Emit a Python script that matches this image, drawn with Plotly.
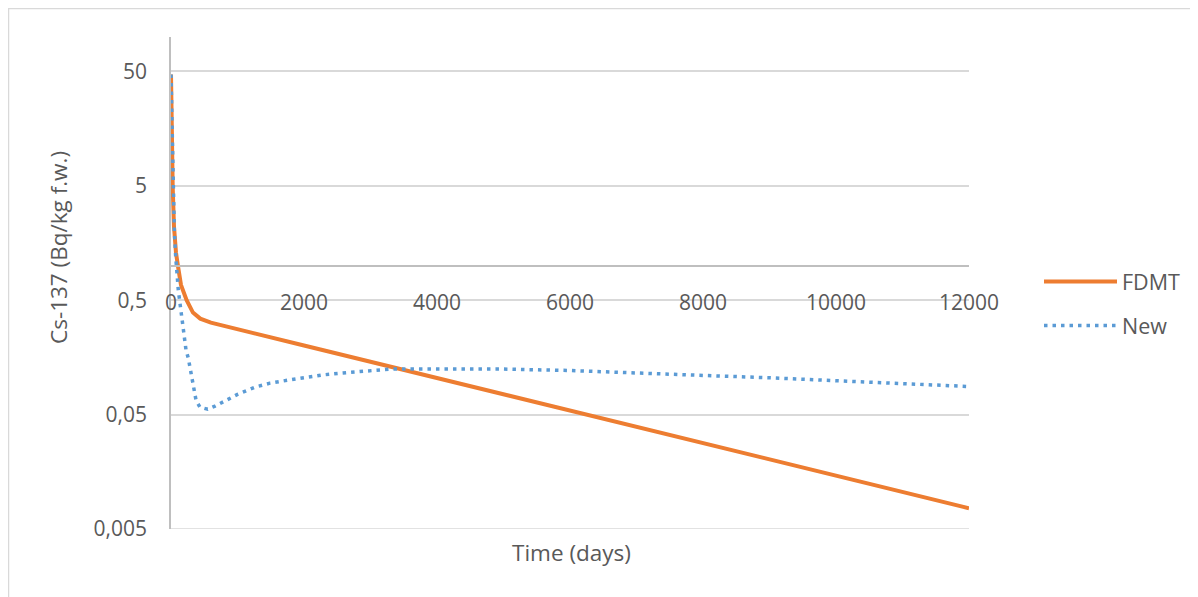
import math
import plotly.graph_objects as go

# ---- data ----
fdmt_days = [0, 10, 26, 45, 75, 110, 150, 235, 330, 440, 600, 2000, 4000, 6000, 8000, 10000, 12000]
fdmt_vals = [47, 12.5, 4.8, 2.2, 1.3, 0.95, 0.68, 0.5, 0.39, 0.345, 0.318, 0.201, 0.1044, 0.0542, 0.0282, 0.01463, 0.0076]

new_days = [0, 35, 50, 71, 86, 110, 135, 161, 185, 226, 260, 286, 311, 326, 376, 436, 552, 662, 782,
            1008, 1263, 1489, 1760, 2015, 2271, 2542, 2918, 3294, 3700, 4200, 5000, 6000, 7000,
            8000, 9000, 10000, 11000, 12000]
new_vals = [47, 4.3, 2.04, 1.19, 0.86, 0.611, 0.471, 0.37, 0.263, 0.183, 0.156, 0.13, 0.111, 0.0942,
            0.067, 0.058, 0.0558, 0.0593, 0.0643, 0.0755, 0.0869, 0.0942, 0.100, 0.106, 0.111, 0.115,
            0.120, 0.125, 0.125, 0.125, 0.125, 0.1215, 0.1146, 0.110, 0.105, 0.099, 0.0935, 0.088]

y_tickvals = [0.005, 0.05, 0.5, 5, 50]
y_ticktext = ["0,005", "0,05", "0,5", "5", "50"]
x_tickvals = [0, 2000, 4000, 6000, 8000, 10000, 12000]
x_ticktext = ["0", "2000", "4000", "6000", "8000", "10000", "12000"]

y_min, y_max = 0.005, 100
x_min, x_max = 0, 12000
x_cross = 1  # horizontal axis crosses at this value

FONT = "Open Sans"
TXT = "#595959"
GRID = "#D9D9D9"

fig = go.Figure()
fig.add_trace(go.Scatter(x=fdmt_days, y=fdmt_vals, mode="lines", name="FDMT",
                         line=dict(color="#ED7D31", width=4), legendgroup="a"))
fig.add_trace(go.Scatter(x=new_days, y=new_vals, mode="lines", name="New",
                         line=dict(color="#5B9BD5", width=3.5, dash="3.5px,5px"), legendgroup="b"))

lo, hi = math.log10(y_min), math.log10(y_max)
cross_pos = (math.log10(x_cross) - lo) / (hi - lo)

OFF = 8  # page body margin
W, H = 1198 - OFF, 597 - OFF
ml, mt = 171 - OFF, 37 - OFF
pw, ph = 798, 492
mr, mb = W - ml - pw, H - mt - ph


def px(xw):
    return (xw - OFF - ml) / pw


def py(yw):
    return (mt + ph - (yw - OFF)) / ph


fig.update_layout(
    width=W, height=H,
    margin=dict(l=ml, r=mr, t=mt, b=mb, pad=0, autoexpand=False),
    paper_bgcolor="white", plot_bgcolor="white",
    font=dict(family=FONT, size=21, color=TXT),
    showlegend=True,
    legend=dict(x=px(1039), xanchor="left", y=py(261), yanchor="top",
                font=dict(size=21.5, color=TXT), traceorder="grouped", tracegroupgap=13,
                itemwidth=73, bgcolor="rgba(0,0,0,0)"),
    xaxis=dict(range=[x_min, x_max], tickvals=x_tickvals, ticktext=x_ticktext,
               showgrid=False, zeroline=False, showline=True, linecolor="#BFBFBF", linewidth=1.5,
               anchor="free", position=cross_pos, ticks="", ticklabelstandoff=18,
               tickfont=dict(size=21, color=TXT)),
    yaxis=dict(type="log", range=[lo, hi], tickvals=y_tickvals, ticktext=y_ticktext,
               showgrid=True, gridcolor=GRID, gridwidth=1.5, zeroline=False,
               showline=True, linecolor="#BFBFBF", linewidth=1.5, ticks="",
               ticklabelstandoff=18, tickfont=dict(size=21, color=TXT)),
    annotations=[
        dict(text="Time (days)", xref="paper", yref="paper", x=px(571), y=py(552),
             xanchor="center", yanchor="middle", showarrow=False, font=dict(size=22.5, color=TXT)),
        dict(text="Cs-137 (Bq/kg f.w.)", xref="paper", yref="paper", x=px(58), y=py(248),
             xanchor="center", yanchor="middle", textangle=-90,
             showarrow=False, font=dict(size=22.5, color=TXT)),
    ],
    shapes=[
        dict(type="rect", xref="paper", yref="paper", x0=px(OFF + 0.5), x1=px(1260),
             y0=py(660), y1=py(OFF + 0.5),
             line=dict(color=GRID, width=1.5), fillcolor="rgba(0,0,0,0)", layer="below"),
        # bottom gridline at the lowest tick (plotly hides gridlines on the range edge)
        dict(type="line", xref="paper", x0=0, x1=1, yref="y", y0=y_min, y1=y_min,
             line=dict(color=GRID, width=1.5), layer="below"),
    ],
)

fig.write_html("out.html")
